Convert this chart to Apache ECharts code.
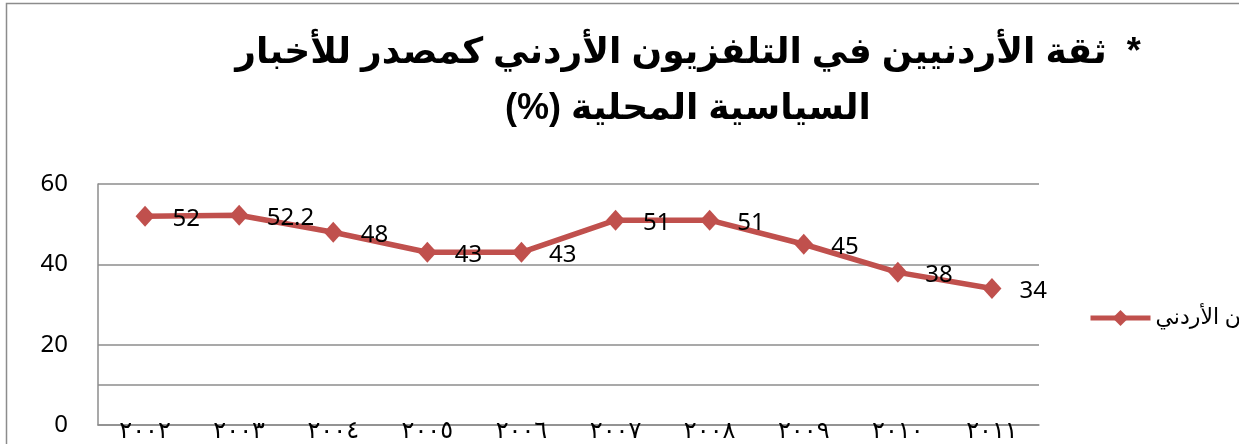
<!DOCTYPE html>
<html>
<head>
<meta charset="utf-8">
<script src="https://cdn.jsdelivr.net/npm/echarts@6/dist/echarts.min.js"></script>
<style>
html,body{margin:0;padding:0;background:#fff;}
#trustChart{width:1239px;height:444px;}
</style>
</head>
<body>
<div id="trustChart"></div>
<script>
// 数据
var years = ['٢٠٠٢', '٢٠٠٣', '٢٠٠٤', '٢٠٠٥', '٢٠٠٦', '٢٠٠٧', '٢٠٠٨', '٢٠٠٩', '٢٠١٠', '٢٠١١'];
var trustValues = [52, 52.2, 48, 43, 43, 51, 51, 45, 38, 34];
var seriesName = 'التلفزيون الأردني';
var titleLines = ['*  ثقة الأردنيين في التلفزيون الأردني كمصدر للأخبار', 'السياسية المحلية (%)'];
var extraGridValue = 10;

(function () {
    initTrustChart();

    function initTrustChart() {
        var myChart = echarts.init(document.getElementById('trustChart'));
        // each line is embedded RTL so the asterisk and (%) land on the right sides
        var titleText = titleLines.map(function (t) {
            return '\u202B' + t + '\u202C';
        }).join('\n');

        option = {
            animation: false,
            backgroundColor: '#fff',
            title: {
                text: titleText,
                left: 683,
                top: 20,
                textAlign: 'center',
                textStyle: {
                    fontFamily: 'Liberation Sans, DejaVu Sans',
                    fontWeight: 900,
                    fontSize: 36,
                    lineHeight: 56,
                    color: '#000'
                }
            },
            graphic: [{
                type: 'rect',
                shape: { x: 6.5, y: 3.5, width: 1300, height: 500 },
                style: { fill: 'none', stroke: '#8c8c8c', lineWidth: 1.5 },
                silent: true
            }],
            legend: {
                left: 1083,
                top: 302,
                itemWidth: 60,
                itemHeight: 20,
                lineStyle: { width: 5 },
                textStyle: {
                    fontFamily: 'Noto Sans, DejaVu Sans',
                    fontSize: 22,
                    color: '#000'
                },
                data: [seriesName]
            },
            grid: {
                left: 98,
                right: 200,
                top: 184,
                bottom: 18,
                containLabel: false
            },
            xAxis: [{
                type: 'category',
                boundaryGap: true,
                data: years,
                axisLine: {
                    show: true,
                    lineStyle: { color: '#8c8c8c', width: 1.5 }
                },
                axisTick: { show: false },
                axisLabel: {
                    margin: -5,
                    fontFamily: 'DejaVu Sans',
                    fontSize: 24,
                    color: '#000'
                }
            }],
            yAxis: [{
                type: 'value',
                min: 0,
                max: 60,
                interval: 20,
                axisLine: {
                    show: true,
                    lineStyle: { color: '#8c8c8c', width: 1.5 }
                },
                axisTick: { show: false },
                axisLabel: {
                    margin: 30,
                    fontFamily: 'Noto Sans',
                    fontSize: 24,
                    color: '#000'
                },
                splitLine: {
                    lineStyle: { color: '#8c8c8c', width: 1.5 }
                }
            }],
            series: [{
                name: seriesName,
                type: 'line',
                symbol: 'diamond',
                symbolSize: [19, 21],
                lineStyle: { width: 5.5, color: '#c0504d' },
                itemStyle: { color: '#c0504d' },
                label: {
                    show: true,
                    position: 'right',
                    distance: 18,
                    offset: [0, 3],
                    fontFamily: 'Noto Sans',
                    fontSize: 24,
                    color: '#000'
                },
                markLine: {
                    silent: true,
                    symbol: 'none',
                    label: { show: false },
                    lineStyle: { type: 'solid', color: '#8c8c8c', width: 1.5 },
                    data: [{ yAxis: extraGridValue }]
                },
                data: trustValues
            }]
        };

        myChart.setOption(option);
        window.addEventListener('resize', function () {
            myChart.resize();
        });
    }
})();
</script>
</body>
</html>
